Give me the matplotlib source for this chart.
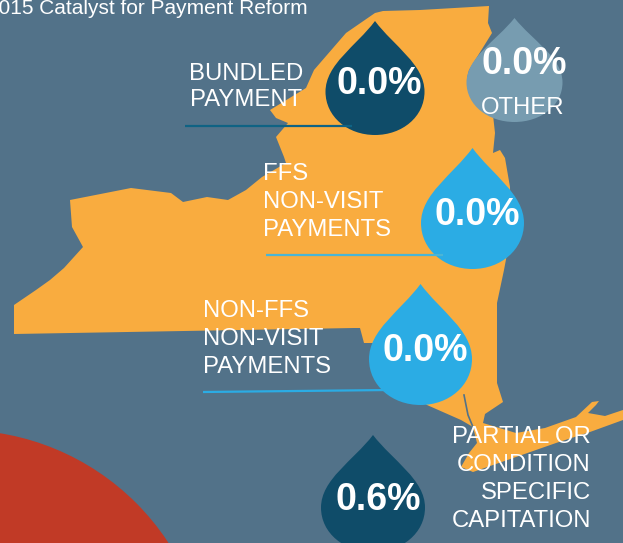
import matplotlib
matplotlib.use("Agg")
import matplotlib.pyplot as plt
from matplotlib.path import Path
from matplotlib.patches import PathPatch, Polygon, Circle

plt.rcParams['font.family'] = ['Liberation Sans', 'DejaVu Sans']

# Data
categories = ["BUNDLED\nPAYMENT", "OTHER", "FFS\nNON-VISIT\nPAYMENTS",
              "NON-FFS\nNON-VISIT\nPAYMENTS", "PARTIAL OR\nCONDITION\nSPECIFIC\nCAPITATION"]
values = [0.0, 0.0, 0.0, 0.0, 0.6]
title = "2015 Catalyst for Payment Reform"

# Layout (pixel coordinates of the 623x543 canvas)
BG, ORANGE, DARK, LIGHT, GREY, RED = "#527289", "#F9AC3F", "#0F4C69", "#2BACE4", "#779CB0", "#C13A26"
drop_geom = [(375, 21, 135, 49.5), (514.5, 18, 122, 48), (472.5, 148, 269, 51.5),
             (420.5, 284, 405, 51.5), (373, 435, 552, 52)]
drop_cols = [DARK, GREY, LIGHT, LIGHT, DARK]
value_pos = [(379, 84), (524, 64), (477, 215), (425, 351), (378, 500)]
value_size = [27, 27, 27, 27, 27]
label_pos = [(246, 87, 'center'), (522.5, 108, 'center'), (263, 202, 'left'),
             (203, 339, 'left'), (591, 479, 'right')]
label_spacing = [1.2, 1.0, 1.37, 1.37, 1.37]
leaders = [((185, 126), (352, 126), "#0F6384"),
           ((266, 255), (443, 255), "#4BB5D5"),
           ((203, 392), (390, 390), "#2BACE4")]

state = [(383, 11), (420, 10), (489, 6), (488, 23), (492, 33), (469, 70), (467, 78), (477, 103), (493, 115),
         (495, 133), (493, 153), (500, 150), (505, 158), (510, 187), (511, 233), (504, 270),
         (497, 303), (497, 337), (497, 383), (503, 402), (485, 414), (483, 423), (516, 433),
         (545, 428), (576, 417), (592, 402), (599, 401), (596, 405), (588, 413), (605, 416),
         (623, 410), (623, 420), (590, 432), (556, 443), (516, 457), (473, 472), (461, 467),
         (469, 453), (477, 443), (473, 427), (461, 420), (427, 405), (395, 380), (373, 343),
         (364, 343), (360, 328), (354, 328), (14, 334), (14, 305), (36, 290), (50, 280),
         (64, 268), (83, 247), (72, 227), (70, 200), (131, 188), (171, 193), (183, 202),
         (207, 197), (228, 200), (246, 190), (262, 177), (286, 163), (284, 157), (276, 137),
         (288, 123), (276, 118), (270, 110), (306, 88), (314, 70), (346, 33), (375, 13)]
river = [(464, 395), (466, 405), (468, 415), (473, 427)]


def drop_path(cx, top, bottom, w):
    h = bottom - top
    verts = [(cx, top),
             (cx + 0.38 * w, top + 0.22 * h), (cx + w, top + 0.38 * h), (cx + w, top + 0.62 * h),
             (cx + w, top + 0.84 * h), (cx + 0.55 * w, bottom), (cx, bottom),
             (cx - 0.55 * w, bottom), (cx - w, top + 0.84 * h), (cx - w, top + 0.62 * h),
             (cx - w, top + 0.38 * h), (cx - 0.38 * w, top + 0.22 * h), (cx, top), (cx, top)]
    codes = [Path.MOVETO] + [Path.CURVE4] * 12 + [Path.CLOSEPOLY]
    return Path(verts, codes)


fig = plt.figure(figsize=(6.23, 5.43), dpi=100, facecolor=BG)
ax = fig.add_axes([0, 0, 1, 1])
ax.set_xlim(0, 623)
ax.set_ylim(543, 0)
ax.axis("off")

ax.add_patch(Circle((-40, 679), 249, fc=RED, ec="none", zorder=1))
ax.add_patch(Polygon(state, closed=True, fc=ORANGE, ec="none", zorder=2))
ax.plot(*zip(*river), color=BG, lw=1.2, zorder=3)

for (cx, top, bottom, w), col in zip(drop_geom, drop_cols):
    ax.add_patch(PathPatch(drop_path(cx, top, bottom, w), fc=col, ec="none", zorder=4))

for a, b, col in leaders:
    ax.plot([a[0], b[0]], [a[1], b[1]], color=col, lw=1.6, zorder=5, solid_capstyle="butt")

for v, (x, y), s in zip(values, value_pos, value_size):
    ax.text(x, y, f"{v:.1f}%", color="white", fontsize=s, fontweight="bold",
            ha="center", va="center", zorder=6)

for lab, (x, y, ha), sp in zip(categories, label_pos, label_spacing):
    ax.text(x, y, lab, color="white", fontsize=17.2, ha=ha, va="center", ma=ha,
            linespacing=sp, zorder=6)

ax.text(-13, 8, title, color="white", fontsize=15, ha="left", va="center", zorder=6)

fig.savefig("out.png", dpi=100, facecolor=BG)
